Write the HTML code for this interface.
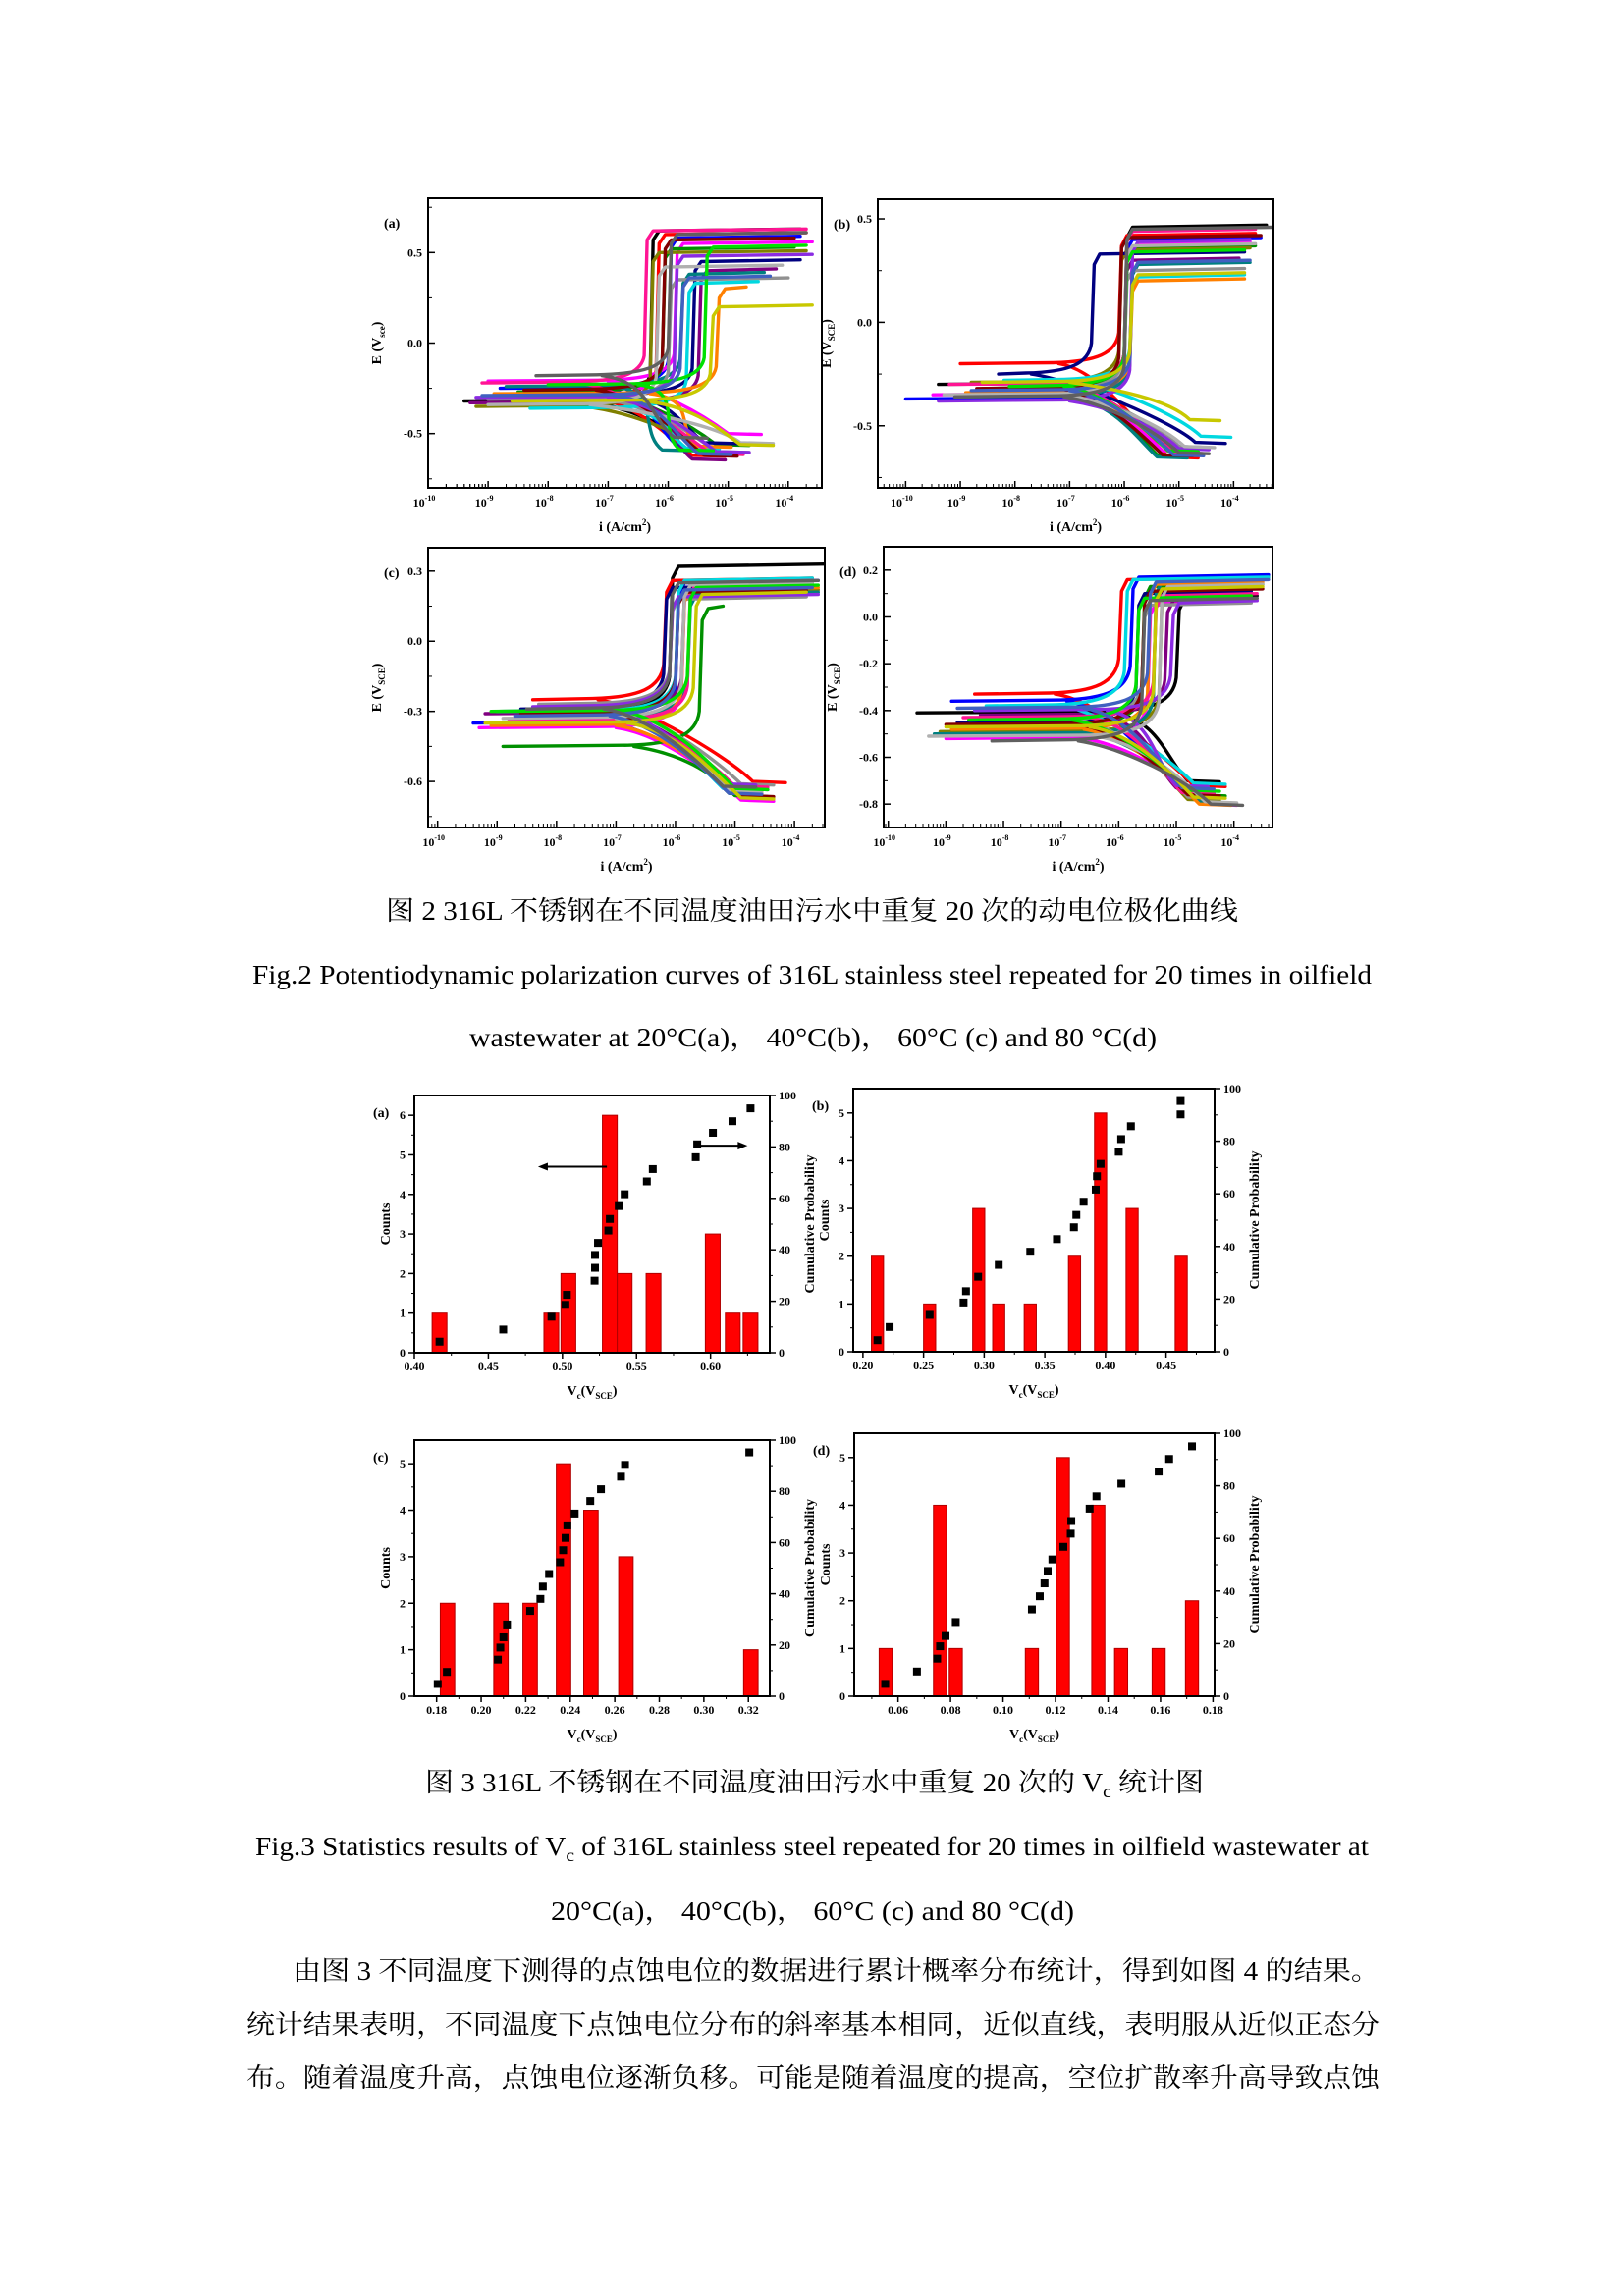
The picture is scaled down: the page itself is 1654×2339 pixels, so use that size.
<!DOCTYPE html>
<html><head><meta charset="utf-8">
<style>
html,body{margin:0;padding:0;background:#fff;}
svg{display:block;}
.cap{font-family:"Liberation Serif","Noto Serif CJK SC",serif;font-size:27px;fill:#000;}
.tk{font-family:"Liberation Serif",serif;font-size:12px;font-weight:bold;fill:#000;}
.al{font-family:"Liberation Serif",serif;font-size:14px;font-weight:bold;fill:#000;}
</style></head>
<body>
<svg id="page" xmlns="http://www.w3.org/2000/svg" width="1654" height="2339" viewBox="0 0 1654 2339">
<rect width="1654" height="2339" fill="#fff"/>
<g id="figs"></g>
<text class="cap" x="393" y="937" textLength="868" lengthAdjust="spacingAndGlyphs">图 2 316L 不锈钢在不同温度油田污水中重复 20 次的动电位极化曲线</text>
<text class="cap" x="257" y="1002" textLength="1140" lengthAdjust="spacingAndGlyphs">Fig.2 Potentiodynamic polarization curves of 316L stainless steel repeated for 20 times in oilfield</text>
<text class="cap" x="478" y="1066" textLength="700" lengthAdjust="spacingAndGlyphs">wastewater at 20°C(a)，  40°C(b)，  60°C (c) and 80 °C(d)</text>
<text class="cap" x="433" y="1825" textLength="793" lengthAdjust="spacingAndGlyphs">图 3 316L 不锈钢在不同温度油田污水中重复 20 次的 V<tspan font-size="18" dy="6">c</tspan><tspan dy="-6"> 统计图</tspan></text>
<text class="cap" x="260" y="1890" textLength="1134" lengthAdjust="spacingAndGlyphs">Fig.3 Statistics results of V<tspan font-size="18" dy="6">c</tspan><tspan dy="-6"> of 316L stainless steel repeated for 20 times in oilfield wastewater at</tspan></text>
<text class="cap" x="561" y="1956" textLength="533" lengthAdjust="spacingAndGlyphs">20°C(a)，  40°C(b)，  60°C (c) and 80 °C(d)</text>
<text class="cap" x="298" y="2017" textLength="1107" lengthAdjust="spacingAndGlyphs">由图 3 不同温度下测得的点蚀电位的数据进行累计概率分布统计，得到如图 4 的结果。</text>
<text class="cap" x="251" y="2072" textLength="1154" lengthAdjust="spacingAndGlyphs">统计结果表明，不同温度下点蚀电位分布的斜率基本相同，近似直线，表明服从近似正态分</text>
<text class="cap" x="251" y="2126" textLength="1154" lengthAdjust="spacingAndGlyphs">布。随着温度升高，点蚀电位逐渐负移。可能是随着温度的提高，空位扩散率升高导致点蚀</text>
</svg>
<script>
// ---------- Fig.2 polarization curve parameters (per curve, 20 each) ----------
const aEcorr=[-0.32,-0.30,-0.25,-0.21,-0.27,-0.35,-0.29,-0.33,-0.24,-0.31,-0.36,-0.28,-0.22,-0.26,-0.30,-0.34,-0.23,-0.29,-0.32,-0.18];
const aEpit=[0.62,0.60,0.58,0.55,0.52,0.50,0.45,0.40,0.38,0.35,0.33,0.30,0.62,0.57,0.48,0.42,0.53,0.36,0.20,0.60];
const aLpass=[-6.3,-6.2,-6.0,-5.9,-6.1,-6.3,-5.6,-5.5,-5.8,-6.0,-5.7,-5.2,-6.4,-6.1,-5.9,-6.2,-5.4,-5.8,-5.3,-6.0];
const aLend=[-3.8,-3.7,-3.8,-3.6,-3.9,-3.7,-3.8,-4.2,-4.4,-4.0,-4.5,-4.7,-3.7,-3.9,-3.6,-4.1,-3.7,-4.3,-3.6,-3.7];
const aLstart=[-9.4,-8.6,-8.8,-9.0,-8.5,-9.2,-8.8,-9.3,-8.7,-9.0,-8.3,-8.9,-9.1,-8.4,-9.2,-9.0,-8.0,-9.1,-8.6,-8.2];
const aEmin=[-0.60,-0.62,-0.58,-0.50,-0.56,-0.61,-0.55,-0.64,-0.59,-0.60,-0.58,-0.57,-0.61,-0.62,-0.60,-0.55,-0.59,-0.61,-0.56,-0.52];
const aLcath=[-5.2,-5.4,-5.6,-4.8,-5.0,-5.1,-5.2,-5.4,-5.9,-5.0,-5.5,-5.3,-5.1,-5.2,-5.0,-4.6,-5.6,-5.3,-4.6,-5.7];

const bEcorr=[-0.30,-0.20,-0.37,-0.35,-0.32,-0.29,-0.25,-0.31,-0.36,-0.33,-0.28,-0.34,-0.30,-0.32,-0.38,-0.35,-0.31,-0.33,-0.29,-0.36];
const bEpit=[0.46,0.42,0.40,0.38,0.36,0.35,0.33,0.30,0.28,0.25,0.22,0.20,0.44,0.41,0.39,0.37,0.34,0.29,0.23,0.45];
const bLpass=[-6.0,-6.1,-6.0,-5.9,-6.0,-6.1,-6.6,-6.0,-5.9,-6.0,-5.9,-5.9,-6.0,-6.1,-5.9,-6.0,-6.0,-5.9,-5.9,-6.0];
const bLend=[-3.4,-3.6,-3.5,-3.7,-3.6,-3.7,-3.8,-3.9,-3.7,-3.8,-3.8,-3.8,-3.6,-3.5,-3.7,-3.6,-3.8,-3.7,-3.8,-3.3];
const bLstart=[-9.4,-9.0,-10.0,-9.5,-8.6,-8.8,-8.3,-8.0,-9.0,-8.5,-8.2,-8.9,-9.2,-8.7,-9.4,-9.3,-8.1,-8.8,-8.6,-9.1];
const bEmin=[-0.63,-0.65,-0.60,-0.62,-0.64,-0.61,-0.58,-0.63,-0.65,-0.60,-0.55,-0.62,-0.63,-0.64,-0.61,-0.60,-0.62,-0.64,-0.47,-0.63];
const bLcath=[-4.9,-5.0,-4.8,-5.1,-5.2,-5.0,-4.5,-4.9,-5.2,-4.8,-4.4,-5.0,-4.9,-5.1,-4.8,-4.7,-5.0,-4.9,-4.6,-4.8];

const cEcorr=[-0.30,-0.25,-0.35,-0.37,-0.45,-0.32,-0.29,-0.31,-0.33,-0.27,-0.30,-0.36,-0.34,-0.31,-0.28,-0.33,-0.30,-0.32,-0.35,-0.29];
const cEpit=[0.32,0.26,0.25,0.22,0.14,0.21,0.23,0.24,0.20,0.18,0.26,0.22,0.25,0.21,0.19,0.24,0.23,0.22,0.20,0.25];
const cLpass=[-6.1,-6.2,-6.0,-5.9,-5.6,-6.0,-6.2,-5.9,-5.8,-6.1,-6.0,-5.9,-5.8,-6.0,-6.1,-5.9,-5.8,-6.0,-5.7,-6.1];
const cLend=[-3.5,-3.7,-3.6,-3.8,-5.2,-3.6,-3.8,-3.7,-3.6,-3.8,-3.7,-3.6,-3.7,-3.8,-3.6,-3.7,-3.6,-3.7,-3.8,-3.6];
const cLstart=[-9.0,-8.4,-9.4,-9.3,-8.9,-8.5,-8.6,-9.2,-8.7,-8.3,-9.0,-9.1,-8.8,-8.6,-8.4,-8.9,-9.1,-8.7,-9.2,-8.5];
const cEmin=[-0.65,-0.60,-0.66,-0.68,-0.66,-0.62,-0.64,-0.63,-0.65,-0.61,-0.63,-0.64,-0.62,-0.66,-0.61,-0.64,-0.63,-0.65,-0.67,-0.62];
const cLcath=[-4.9,-4.5,-4.8,-4.7,-4.8,-4.9,-4.9,-4.8,-4.9,-4.7,-5.0,-4.9,-4.8,-4.7,-5.0,-4.9,-4.8,-4.9,-4.7,-5.0];

const dEcorr=[-0.41,-0.33,-0.36,-0.52,-0.47,-0.49,-0.45,-0.42,-0.50,-0.44,-0.38,-0.48,-0.43,-0.46,-0.40,-0.51,-0.44,-0.39,-0.47,-0.53];
const dEpit=[0.08,0.16,0.17,0.06,0.13,0.12,0.10,0.07,0.15,0.05,0.16,0.14,0.09,0.11,0.06,0.13,0.08,0.15,0.12,0.07];
const dLpass=[-5.0,-6.0,-5.8,-5.5,-5.6,-5.3,-5.7,-5.2,-5.4,-5.6,-5.9,-5.5,-5.4,-5.6,-5.1,-5.3,-5.7,-5.5,-5.4,-5.6];
const dLend=[-3.6,-3.4,-3.4,-3.6,-3.5,-3.6,-3.7,-3.6,-3.5,-3.7,-3.4,-3.5,-3.6,-3.5,-3.6,-3.5,-3.7,-3.4,-3.5,-3.6];
const dLstart=[-9.5,-8.5,-8.9,-9.0,-8.7,-9.1,-8.8,-8.4,-9.2,-8.6,-8.3,-8.9,-8.7,-9.0,-8.5,-9.3,-8.6,-8.8,-9.0,-8.2];
const dEmin=[-0.70,-0.72,-0.75,-0.80,-0.76,-0.78,-0.74,-0.73,-0.79,-0.77,-0.71,-0.80,-0.75,-0.76,-0.72,-0.79,-0.74,-0.73,-0.77,-0.80];
const dLcath=[-4.6,-4.5,-4.7,-4.3,-4.5,-4.6,-4.7,-4.8,-4.4,-4.6,-4.5,-4.4,-4.7,-4.6,-4.8,-4.3,-4.6,-4.7,-4.5,-4.2];

const curveColors=['#000000','#ff0000','#0000ff','#ff00ff','#009000','#808000','#000080','#800080','#008080','#909090','#00d8e0','#ff8000','#ff1493','#800000','#8a2be2','#b0b0b0','#00e000','#4060c0','#c8c800','#606060'];

// ---------- Fig.3 histogram + cumulative data ----------
const haBarX=[0.417,0.4925,0.504,0.532,0.542,0.5615,0.6015,0.615,0.627];
const haBarN=[1,1,2,6,2,2,3,1,1];
const haPtX=[0.417,0.460,0.4926,0.502,0.503,0.5217,0.522,0.522,0.524,0.531,0.532,0.538,0.542,0.557,0.561,0.590,0.591,0.6016,0.6148,0.627];
const haPtY=[4.3,9,14,18.6,22.5,28,33,38,42.7,47.5,52,57,61.6,66.6,71.4,76,81,85.5,90,95];

const hbBarX=[0.212,0.255,0.2955,0.312,0.338,0.3745,0.396,0.422,0.4625];
const hbBarN=[2,1,3,1,1,2,5,3,2];
const hbPtX=[0.212,0.222,0.255,0.283,0.285,0.295,0.312,0.338,0.360,0.374,0.376,0.382,0.392,0.393,0.396,0.411,0.413,0.421,0.462,0.462];
const hbPtY=[4.4,9.4,14,18.7,23,28.5,33,38,42.8,47.3,52,57,61.6,66.7,71.4,76,80.8,85.7,90.2,95.3];

const hcBarX=[0.1849,0.2089,0.222,0.237,0.2493,0.265,0.3211];
const hcBarN=[2,2,2,5,4,3,1];
const hcPtX=[0.1805,0.1846,0.2075,0.2086,0.210,0.2116,0.222,0.2266,0.2277,0.2305,0.2354,0.2368,0.2379,0.2387,0.242,0.249,0.2538,0.2628,0.2646,0.3204];
const hcPtY=[4.8,9.5,14.3,19,23,28,33.3,38,42.8,47.7,52.3,57,61.8,66.7,71.3,76.2,80.8,85.7,90.3,95.2];

const hdBarX=[0.0553,0.076,0.082,0.111,0.1228,0.1363,0.145,0.1593,0.172];
const hdBarN=[1,4,1,1,5,4,1,1,2];
const hdPtX=[0.0551,0.0672,0.0749,0.076,0.0781,0.082,0.111,0.114,0.1158,0.117,0.1188,0.123,0.1258,0.126,0.133,0.1356,0.1451,0.1593,0.1633,0.172];
const hdPtY=[4.7,9.4,14.3,19,22.9,28.2,33,38,42.9,47.6,52,56.8,61.8,66.6,71.3,76,80.8,85.4,90.2,95];

const NS='http://www.w3.org/2000/svg';
const root=document.getElementById('figs');
function mk(tag,attrs,parent){const e=document.createElementNS(NS,tag);for(const k in attrs)e.setAttribute(k,attrs[k]);(parent||root).appendChild(e);return e;}

function frame(g,b){
  const r=mk('rect',{x:b.x0,y:b.y0,width:b.x1-b.x0,height:b.y1-b.y0,fill:'none',stroke:'#000','stroke-width':2},g);
  
  
}

function polPanel(name,b,xmin,xmax,ymin,ymax,yt,ytl,label,ylab,E,EP,LP,LE,LS,EM,LC){
  const g=mk('g',{});
  
  
  const sx=v=>b.x0+(v-xmin)/(xmax-xmin)*(b.x1-b.x0);
  const sy=v=>b.y1-(v-ymin)/(ymax-ymin)*(b.y1-b.y0);
  const cg=mk('g',{fill:'none','stroke-width':3.4,'stroke-linejoin':'round','stroke-linecap':'round'},g);
  cg.setAttribute('clip-path','url(#clip-'+name+')');
  const cp=mk('clipPath',{id:'clip-'+name},g);
  mk('rect',{x:b.x0,y:b.y0,width:b.x1-b.x0,height:b.y1-b.y0},cp);
  for(let i=0;i<E.length;i++){
    const ec=E[i],lp=LP[i];
    const P=(l,e)=>sx(l).toFixed(1)+' '+sy(e).toFixed(1);
    const d='M'+P(LS[i],ec)+' L'+P(lp-1.2,ec+0.005)+' C'+P(lp-0.4,ec+0.01)+' '+P(lp-0.05,ec+0.05)+' '+P(lp,ec+0.15)+
      ' L'+P(lp+0.05,EP[i]-0.05)+' L'+P(lp+0.15,EP[i])+' L'+P(LE[i],EP[i]+0.01);
    const p=mk('path',{d:d,stroke:curveColors[i%curveColors.length]},cg);
    
    
    const d2='M'+P(lp-1.1,ec)+' C'+P(lp-0.3,ec-0.03)+' '+P(LC[i]-0.6,EM[i]+0.1)+' '+P(LC[i]-0.2,EM[i])+' L'+P(LC[i]+0.35,EM[i]-0.005);
    const p2=mk('path',{d:d2,stroke:curveColors[i%curveColors.length]},cg);
    
    
  }
  frame(g,b);
  for(let dcd=Math.ceil(xmin);dcd<=Math.floor(xmax);dcd++){
    const x=sx(dcd);
    mk('line',{x1:x,y1:b.y1,x2:x,y2:b.y1-7,stroke:'#000','stroke-width':1.5},g);
    const t=mk('text',{x:x-4,y:b.y1+19,class:'tk','text-anchor':'middle'},g);
    t.textContent='10';
    const s=mk('tspan',{'font-size':8,dy:-6},t);s.textContent=String(dcd);
    for(let m=2;m<10;m++){const xm=sx(dcd+Math.log10(m));if(xm<b.x1&&xm>b.x0)mk('line',{x1:xm,y1:b.y1,x2:xm,y2:b.y1-4,stroke:'#000','stroke-width':1},g);}
  }
  for(let m=2;m<10;m++){const xm=sx(Math.floor(xmin)+Math.log10(m));if(xm>b.x0&&xm<b.x1)mk('line',{x1:xm,y1:b.y1,x2:xm,y2:b.y1-4,stroke:'#000','stroke-width':1},g);}
  const step=yt[1]-yt[0];
  for(let v=yt[0]-step;v<=ymax+1e-9;v+=step/2){
    if(v<ymin)continue;const y=sy(v);
    mk('line',{x1:b.x0,y1:y,x2:b.x0+4,y2:y,stroke:'#000','stroke-width':1},g);
  }
  yt.forEach((v,k)=>{const y=sy(v);
    mk('line',{x1:b.x0,y1:y,x2:b.x0+7,y2:y,stroke:'#000','stroke-width':1.5},g);
    const t=mk('text',{x:b.x0-6,y:y+4,class:'tk','text-anchor':'end'},g);t.textContent=ytl[k];});
  const lt=mk('text',{x:b.x0-45,y:b.y0+30,class:'al','font-weight':'normal'},g);lt.textContent=label;
  
  
  const cy=(b.y0+b.y1)/2;
  const yl=mk('text',{x:0,y:0,class:'al',transform:'translate('+(b.x0-48)+','+cy+') rotate(-90)','text-anchor':'middle'},g);
  yl.textContent='E (V';const ys=mk('tspan',{'font-size':9,dy:4},yl);ys.textContent=ylab;const ye=mk('tspan',{dy:-4},yl);ye.textContent=')';
  
  
  const xl=mk('text',{x:(b.x0+b.x1)/2,y:b.y1+44,class:'al','text-anchor':'middle'},g);
  xl.textContent='i (A/cm';const xs=mk('tspan',{'font-size':9,dy:-6},xl);xs.textContent='2';const xe=mk('tspan',{dy:6},xl);xe.textContent=')';
  
  
}

polPanel('polarization-20c',{x0:436,y0:202,x1:837,y1:497},-10,-3.44,-0.8,0.8,[-0.5,0,0.5],['-0.5','0.0','0.5'],'(a)','sce',aEcorr,aEpit,aLpass,aLend,aLstart,aEmin,aLcath);
polPanel('polarization-40c',{x0:894,y0:203,x1:1297,y1:497},-10.51,-3.27,-0.8,0.595,[-0.5,0,0.5],['-0.5','0.0','0.5'],'(b)','SCE',bEcorr,bEpit,bLpass,bLend,bLstart,bEmin,bLcath);
polPanel('polarization-60c',{x0:436,y0:558,x1:840,y1:843},-10.16,-3.49,-0.797,0.40,[-0.6,-0.3,0,0.3],['-0.6','-0.3','0.0','0.3'],'(c)','SCE',cEcorr,cEpit,cLpass,cLend,cLstart,cEmin,cLcath);
polPanel('polarization-80c',{x0:900,y0:557,x1:1296,y1:843},-10.08,-3.33,-0.90,0.30,[-0.8,-0.6,-0.4,-0.2,0,0.2],['-0.8','-0.6','-0.4','-0.2','0.0','0.2'],'(d)','SCE',dEcorr,dEpit,dLpass,dLend,dLstart,dEmin,dLcath);

function histPanel(name,b,xmin,xmax,ymaxL,bw,xt,xtl,xminor,yMaxTick,label,BX,BN,PX,PY,arrows){
  const g=mk('g',{});
  
  
  const sx=v=>b.x0+(v-xmin)/(xmax-xmin)*(b.x1-b.x0);
  const sy=v=>b.y1-v/ymaxL*(b.y1-b.y0);
  const sr=v=>b.y1-v/100*(b.y1-b.y0);
  BX.forEach((x,i)=>{
    const r=mk('rect',{x:sx(x-bw/2),y:sy(BN[i]),width:sx(x+bw/2)-sx(x-bw/2),height:sy(0)-sy(BN[i]),fill:'#ff0000',stroke:'#b00000','stroke-width':1},g);
    
    
  });
  PX.forEach((x,i)=>{
    const p=mk('rect',{x:sx(x)-4,y:sr(PY[i])-4,width:8,height:8,fill:'#000'},g);
    
    
  });
  frame(g,b);
  xt.forEach((v,k)=>{const x=sx(v);
    mk('line',{x1:x,y1:b.y1,x2:x,y2:b.y1+6,stroke:'#000','stroke-width':1.5},g);
    const t=mk('text',{x:x,y:b.y1+18,class:'tk','text-anchor':'middle','font-size':11},g);t.textContent=xtl[k];});
  xminor.forEach(v=>{const x=sx(v);mk('line',{x1:x,y1:b.y1,x2:x,y2:b.y1+3,stroke:'#000','stroke-width':1},g);});
  for(let v=0;v<=yMaxTick;v++){const y=sy(v);
    mk('line',{x1:b.x0,y1:y,x2:b.x0-6,y2:y,stroke:'#000','stroke-width':1.5},g);
    if(v<yMaxTick)mk('line',{x1:b.x0,y1:sy(v+0.5),x2:b.x0-3,y2:sy(v+0.5),stroke:'#000','stroke-width':1},g);
    const t=mk('text',{x:b.x0-9,y:y+4,class:'tk','text-anchor':'end','font-size':11},g);t.textContent=String(v);}
  for(let v=0;v<=100;v+=20){const y=sr(v);
    mk('line',{x1:b.x1,y1:y,x2:b.x1+6,y2:y,stroke:'#000','stroke-width':1.5},g);
    if(v<100)mk('line',{x1:b.x1,y1:sr(v+10),x2:b.x1+3,y2:sr(v+10),stroke:'#000','stroke-width':1},g);
    const t=mk('text',{x:b.x1+9,y:y+4,class:'tk','font-size':10},g);t.textContent=String(v);}
  const lt=mk('text',{x:b.x0-42,y:b.y0+22,class:'al','font-weight':'normal','font-family':'Liberation Sans, sans-serif','font-size':13},g);lt.textContent=label;
  
  
  const cy=(b.y0+b.y1)/2;
  const yl=mk('text',{x:0,y:0,class:'al',transform:'translate('+(b.x0-25)+','+cy+') rotate(-90)','text-anchor':'middle'},g);yl.textContent='Counts';
  
  
  const yr=mk('text',{x:0,y:0,class:'al',transform:'translate('+(b.x1+45)+','+cy+') rotate(-90)','text-anchor':'middle','font-size':14},g);yr.textContent='Cumulative Probability';
  
  
  const xl=mk('text',{x:(b.x0+b.x1)/2,y:b.y1+43,class:'al','text-anchor':'middle','font-weight':'normal','font-size':15},g);
  xl.textContent='V';const s1=mk('tspan',{'font-size':9,dy:4},xl);s1.textContent='c';const s2=mk('tspan',{dy:-4},xl);s2.textContent='(V';
  const s3=mk('tspan',{'font-size':9,dy:4,'font-weight':'bold'},xl);s3.textContent='SCE';const s4=mk('tspan',{dy:-4},xl);s4.textContent=')';
  
  
  if(arrows){
    const a1=mk('path',{d:'M'+sx(0.530)+' '+sy(4.7)+' L'+(sx(0.4835)+8)+' '+sy(4.7),stroke:'#000','stroke-width':2,fill:'none'},g);
    
    
    mk('path',{d:'M'+sx(0.4835)+' '+sy(4.7)+' l10 -4 l0 8 z',fill:'#000'},g);
    const yy=sr(80.5);
    const a2=mk('path',{d:'M'+sx(0.591)+' '+yy+' L'+(sx(0.625)-8)+' '+yy,stroke:'#000','stroke-width':2,fill:'none'},g);
    
    
    mk('path',{d:'M'+sx(0.625)+' '+yy+' l-10 -4 l0 8 z',fill:'#000'},g);
  }
}
function seq(a,bb,s){const r=[];for(let v=a;v<=bb+1e-9;v+=s)r.push(+v.toFixed(4));return r;}
histPanel('vc-histogram-20c',{x0:422,y0:1116,x1:784,y1:1378},0.40,0.64,6.5,0.01,[0.40,0.45,0.50,0.55,0.60],['0.40','0.45','0.50','0.55','0.60'],seq(0.425,0.625,0.05),6,'(a)',haBarX,haBarN,haPtX,haPtY,true);
histPanel('vc-histogram-40c',{x0:869,y0:1109,x1:1237,y1:1377},0.192,0.490,5.51,0.01,[0.20,0.25,0.30,0.35,0.40,0.45],['0.20','0.25','0.30','0.35','0.40','0.45'],seq(0.225,0.475,0.05),5,'(b)',hbBarX,hbBarN,hbPtX,hbPtY,false);
histPanel('vc-histogram-60c',{x0:422,y0:1467,x1:784,y1:1728},0.170,0.3296,5.51,0.0065,[0.18,0.20,0.22,0.24,0.26,0.28,0.30,0.32],['0.18','0.20','0.22','0.24','0.26','0.28','0.30','0.32'],seq(0.19,0.31,0.02),5,'(c)',hcBarX,hcBarN,hcPtX,hcPtY,false);
histPanel('vc-histogram-80c',{x0:870,y0:1460,x1:1237,y1:1728},0.0433,0.1806,5.51,0.005,[0.06,0.08,0.10,0.12,0.14,0.16,0.18],['0.06','0.08','0.10','0.12','0.14','0.16','0.18'],seq(0.05,0.17,0.02),5,'(d)',hdBarX,hdBarN,hdPtX,hdPtY,false);
</script>
</body></html>
